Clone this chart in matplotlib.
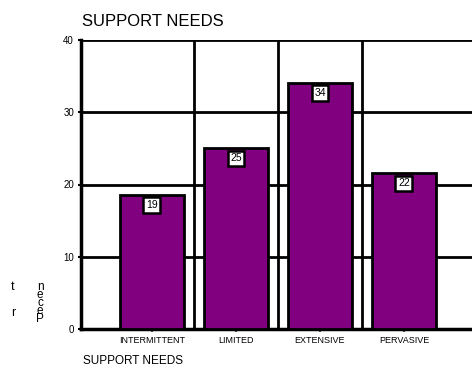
import matplotlib
matplotlib.use("Agg")
import matplotlib.pyplot as plt

categories = ["INTERMITTENT", "LIMITED", "EXTENSIVE", "PERVASIVE"]
percent = [18.6, 25.1, 34.1, 21.6]
y_ticks = [0, 10, 20, 30, 40]

narrow = ["Liberation Sans Narrow", "Liberation Sans", "DejaVu Sans"]
plt.rcParams["font.family"] = ["Liberation Sans", "DejaVu Sans"]

fig = plt.figure(figsize=(4.72, 3.76), dpi=100)
ax = fig.add_axes([81 / 472, 1 - 329 / 376, 1 - 81 / 472, 289 / 376])

x = list(range(len(categories)))
ax.set_axisbelow(True)
ax.bar(x, percent, width=0.76, color="#800080", edgecolor="black",
       linewidth=2, zorder=3)

# value boxes just inside the top of each bar
for xi, v in zip(x, percent):
    ax.text(xi, v - 1.45, f"{v:.0f}", ha="center", va="center", fontsize=7.5,
            zorder=4,
            bbox=dict(boxstyle="square,pad=0.25", fc="white", ec="black", lw=1.8))

ax.set_xlim(-0.845, 3.81)
ax.set_ylim(0, 40)
ax.set_yticks(y_ticks)
ax.set_yticklabels([str(t) for t in y_ticks], fontsize=7)
ax.set_xticks(x)
ax.set_xticklabels(categories, fontsize=6.5)

for t in y_ticks[1:]:
    ax.axhline(t, color="black", lw=2, zorder=1)
for g in [0.5, 1.5, 2.5]:
    ax.axvline(g, color="black", lw=2, zorder=1)

for s in ["top", "right"]:
    ax.spines[s].set_visible(False)
ax.spines["left"].set_linewidth(2.5)
ax.spines["bottom"].set_linewidth(2.5)
ax.tick_params(axis="y", length=2, width=1.5, pad=3)
ax.tick_params(axis="x", length=2, width=1.5, color="#555555", pad=3)

fig.text(82 / 472, 1 - 21 / 376, "SUPPORT NEEDS", fontsize=12,
         family=narrow, ha="left", va="center")
fig.text(83 / 472, 1 - 361 / 376, "SUPPORT NEEDS", fontsize=8.5,
         family=narrow, ha="left", va="center")

# axis title, broken up into letters
for ch, px, py in [("t", 13, 287), ("r", 13, 313)]:
    fig.text(px / 472, 1 - py / 376, ch, fontsize=9, ha="center", va="center")
fig.text(40 / 472, 1 - 303 / 376, "n\ne\nc\ne\nP", fontsize=8.5,
         ha="center", va="center", linespacing=0.55)

fig.savefig("out.png", dpi=100)
